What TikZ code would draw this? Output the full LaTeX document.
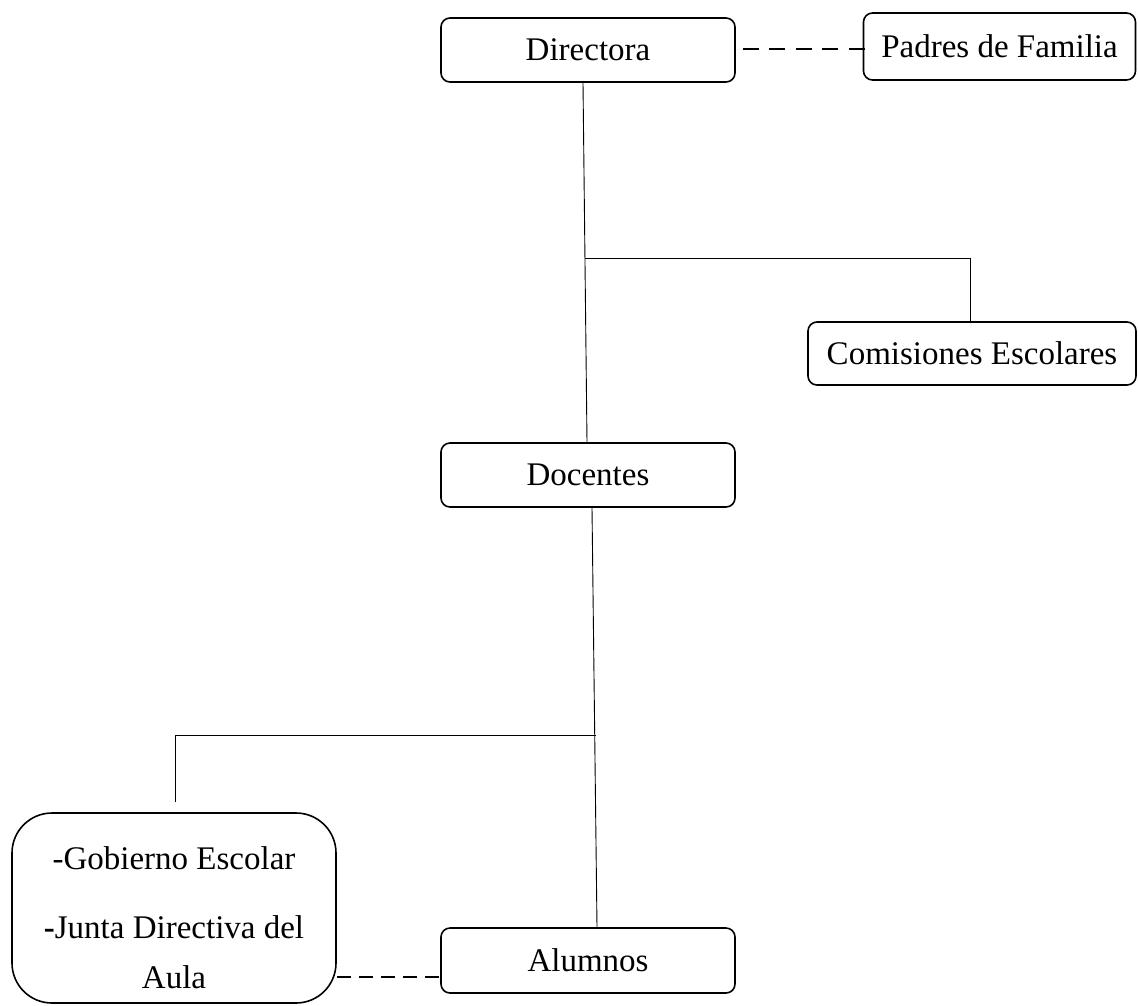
\documentclass[tikz,border=0pt]{standalone}
\usepackage{fontspec}
\setmainfont{Liberation Serif}
\begin{document}
\begin{tikzpicture}[x=1pt,y=-1pt,
  box/.style={draw, line width=1.6pt, rounded corners=9pt, inner sep=0pt, font=\fontsize{33}{40}\selectfont},
  conn/.style={line width=0.9pt},
  dconn/.style={line width=1.1pt, dash pattern=on 16pt off 10.5pt}]
\useasboundingbox (0,0) rectangle (1138,1005);
\node[box, minimum width=294pt, minimum height=64pt] (dir) at (588,50) {Directora};
\node[box, minimum width=272pt, minimum height=67pt] (pad) at (999.5,46.5) {Padres de Familia};
\node[box, minimum width=328pt, minimum height=63pt] (com) at (972,353.5) {Comisiones Escolares};
\node[box, minimum width=294pt, minimum height=64pt] (doc) at (588,475) {Docentes};
\node[box, minimum width=294pt, minimum height=65pt] (alu) at (588,960.5) {Alumnos};
\node[box, rounded corners=40pt, minimum width=324pt, minimum height=190pt] (gob) at (174,908) {};
\node[align=center, inner sep=0pt, font=\fontsize{33}{50}\selectfont] (gobtxt) at ([yshift=-10pt]gob.center)
      {-Gobierno Escolar\\[19pt]\textbf{-}Junta Directiva del\\Aula};
\coordinate (j1) at (585,258);
\coordinate (j2) at (596,735);
\coordinate (g1) at (175,802);
\draw[conn] ([xshift=-5pt]dir.south) -- ([xshift=-1pt]doc.north);
\draw[conn] (j1) -| ([xshift=-2pt]com.north);
\draw[conn] ([xshift=4pt]doc.south) -- ([xshift=9pt]alu.north);
\draw[conn] (j2) -| (g1);
\draw[dconn] ([xshift=7pt,yshift=1pt]dir.east) -- ([xshift=7pt,yshift=1pt]dir.east -| pad.west);
\draw[dconn, dash pattern=on 14pt off 8pt] ([yshift=-69pt]gob.east) -- ([yshift=-69pt]gob.east -| alu.west);
\end{tikzpicture}
\end{document}
